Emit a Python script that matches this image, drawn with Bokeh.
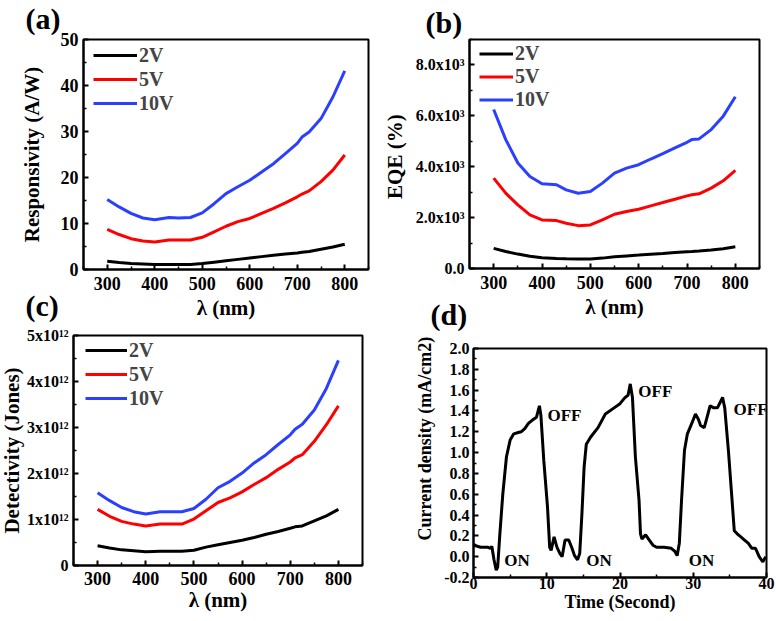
from bokeh.plotting import figure
from bokeh.layouts import column, row
from bokeh.models import FixedTicker, Legend, LegendItem, Range1d, NumeralTickFormatter, Title
from bokeh.embed import file_html
from bokeh.resources import INLINE

FONT = "Liberation Serif"
BLACK, RED, BLUE = "#000000", "#ff0000", "#2b3fff"

# ---------------- data ----------------
wl = [300, 325, 350, 375, 400, 430, 450, 475, 500, 525, 550, 575, 600, 625, 650, 675, 700, 710, 725, 750, 775, 800]

resp_2v = [1.8, 1.5, 1.3, 1.2, 1.1, 1.1, 1.1, 1.1, 1.3, 1.6, 1.9, 2.2, 2.5, 2.8, 3.1, 3.35, 3.6, 3.75, 3.9, 4.4, 4.9, 5.5]
resp_5v = [8.7, 7.6, 6.7, 6.2, 6.0, 6.4, 6.4, 6.4, 7.0, 8.2, 9.4, 10.4, 11.1, 12.2, 13.3, 14.5, 15.8, 16.4, 17.1, 19.1, 21.6, 24.9]
resp_10v = [15.2, 13.6, 12.2, 11.2, 10.8, 11.3, 11.2, 11.3, 12.3, 14.3, 16.5, 18.0, 19.4, 21.2, 23.0, 25.2, 27.4, 28.8, 29.9, 32.8, 37.5, 43.2]

eqe_2v = [790, 670, 566, 480, 421, 395, 382, 370, 375, 408, 460, 495, 526, 560, 592, 625, 658, 670, 690, 724, 780, 855]
eqe_5v = [3553, 2960, 2500, 2105, 1908, 1882, 1776, 1684, 1711, 1908, 2132, 2237, 2329, 2461, 2592, 2724, 2855, 2900, 2934, 3158, 3447, 3855]
eqe_10v = [6250, 5066, 4145, 3618, 3329, 3290, 3092, 2960, 3026, 3355, 3750, 3947, 4079, 4303, 4513, 4737, 4960, 5066, 5092, 5460, 5987, 6750]

det_2v = [0.43e12, 0.38e12, 0.34e12, 0.32e12, 0.30e12, 0.31e12, 0.31e12, 0.31e12, 0.33e12, 0.40e12, 0.45e12, 0.50e12, 0.55e12, 0.61e12, 0.68e12, 0.74e12, 0.81e12, 0.84e12, 0.86e12, 0.97e12, 1.08e12, 1.22e12]
det_5v = [1.22e12, 1.07e12, 0.96e12, 0.90e12, 0.86e12, 0.90e12, 0.90e12, 0.90e12, 1.01e12, 1.19e12, 1.37e12, 1.47e12, 1.60e12, 1.76e12, 1.91e12, 2.09e12, 2.25e12, 2.34e12, 2.41e12, 2.70e12, 3.06e12, 3.47e12]
det_10v = [1.58e12, 1.41e12, 1.26e12, 1.17e12, 1.12e12, 1.17e12, 1.17e12, 1.17e12, 1.24e12, 1.44e12, 1.69e12, 1.83e12, 2.01e12, 2.23e12, 2.41e12, 2.63e12, 2.84e12, 2.96e12, 3.07e12, 3.38e12, 3.85e12, 4.46e12]

time_s = [0.0, 0.5, 1.0, 1.5, 2.0, 2.3, 2.5, 2.8, 3.1, 3.3, 3.6, 4.0, 4.5, 5.0, 5.5, 6.0, 6.5, 7.0, 7.5, 8.0, 8.6, 9.0, 9.2,
          9.6, 10.1, 10.4, 10.6, 11.0, 11.4, 11.8, 12.1, 12.5, 13.0, 13.4, 13.8, 14.2, 14.5, 14.8, 15.1, 15.4, 16.0,
          17.0, 18.0, 19.0, 20.0, 20.7, 21.1, 21.4, 21.7, 22.1, 22.6, 22.8, 23.0, 23.5, 24.0, 24.5, 25.0, 26.0,
          27.0, 27.5, 27.8, 28.1, 28.4, 28.8, 29.2, 29.8, 30.3, 30.7, 31.0, 31.5, 32.0, 32.3, 32.8, 33.3, 33.8,
          34.0, 34.3, 34.8, 35.3, 35.6, 36.0, 36.5, 37.0, 37.5, 38.0, 38.5, 39.0, 39.5, 39.9]
current = [0.12, 0.10, 0.09, 0.09, 0.09, 0.08, 0.10, -0.03, -0.13, -0.10, 0.22, 0.60, 0.96, 1.12, 1.18, 1.19, 1.20, 1.23, 1.28, 1.31, 1.34, 1.45, 1.36,
           0.92, 0.48, 0.09, 0.06, 0.19, 0.09, 0.03, 0.00, 0.16, 0.16, 0.09, 0.01, -0.03, 0.03, 0.41, 0.86, 1.08, 1.15,
           1.24, 1.37, 1.42, 1.47, 1.53, 1.55, 1.66, 1.53, 0.96, 0.54, 0.22, 0.17, 0.21, 0.16, 0.11, 0.09, 0.09,
           0.08, 0.05, 0.01, 0.13, 0.54, 1.02, 1.18, 1.28, 1.37, 1.32, 1.26, 1.24, 1.37, 1.45, 1.43, 1.43, 1.50,
           1.53, 1.43, 1.02, 0.54, 0.25, 0.22, 0.19, 0.16, 0.13, 0.08, 0.08, 0.00, -0.05, 0.00]

on_x = [4.2, 15.4, 29.4]
on_y = [-0.04, -0.04, -0.04]
off_x = [10.1, 22.5, 35.5]
off_y = [1.36, 1.59, 1.41]

series_labels = ["2V", "5V", "10V"]
colors = [BLACK, RED, BLUE]
wl_major = [300, 400, 500, 600, 700, 800]
wl_minor = [250, 350, 450, 550, 650, 750, 850]


def style(p, xlabel, ylabel, tick_size="18px", label_size="21px"):
    p.xgrid.grid_line_color = None
    p.ygrid.grid_line_color = None
    p.outline_line_color = "black"
    p.outline_line_width = 2
    p.background_fill_color = "white"
    p.border_fill_color = None
    for ax in (p.xaxis, p.yaxis):
        ax.axis_line_width = 2
        ax.major_tick_in = 5
        ax.major_tick_out = 0
        ax.minor_tick_in = 3
        ax.minor_tick_out = 0
        ax.major_tick_line_width = 2
        ax.minor_tick_line_width = 1.5
        ax.major_label_text_font = FONT
        ax.major_label_text_font_style = "bold"
        ax.major_label_text_font_size = tick_size
        ax.major_label_text_color = "black"
        ax.axis_label_text_font = FONT
        ax.axis_label_text_font_style = "bold"
        ax.axis_label_text_font_size = label_size
        ax.axis_label_text_color = "black"
    p.xaxis.axis_label = xlabel
    if ylabel:
        p.yaxis.axis_label = ylabel


def add_legend(p, rends, loc, glyph_w, item_h, size="20px"):
    leg = Legend(items=[LegendItem(label=l, renderers=[r]) for l, r in zip(series_labels, rends)],
                 location=loc, border_line_color=None, background_fill_alpha=0,
                 label_text_font=FONT, label_text_font_style="bold", label_text_font_size=size,
                 glyph_width=glyph_w, glyph_height=item_h, label_height=item_h,
                 label_standoff=2, spacing=0, padding=0, margin=0)
    p.add_layout(leg)


def panel_title(p, text, offset, standoff):
    t = p.title
    t.text = text
    t.align = "left"
    t.vertical_align = "bottom"
    t.offset = offset
    t.standoff = standoff
    t.text_font = FONT
    t.text_font_style = "bold"
    t.text_font_size = "30px"
    t.text_color = "black"


# ---------------- (a) ----------------
pa = figure(width=376, height=337, output_backend="svg", toolbar_location=None, frame_align=False,
            x_range=Range1d(250, 850), y_range=Range1d(0, 50),
            min_border_left=83, min_border_right=8, min_border_top=54, min_border_bottom=53)
ra = [pa.line(wl, s, line_color=c, line_width=3) for s, c in zip([resp_2v, resp_5v, resp_10v], colors)]
style(pa, "λ (nm)", "Responsivity (A/W)")
pa.xaxis.ticker = FixedTicker(ticks=wl_major, minor_ticks=wl_minor)
pa.yaxis.ticker = FixedTicker(ticks=[0, 10, 20, 30, 40, 50], minor_ticks=[5, 15, 25, 35, 45])
pa.yaxis.major_label_standoff = 5
pa.yaxis.axis_label_standoff = 14
pa.xaxis.major_label_standoff = 7
pa.xaxis.axis_label_standoff = 3
add_legend(pa, ra, (10, 154), 44, 24)
panel_title(pa, "(a)", -58, 10)

# ---------------- (b) ----------------
pb = figure(width=399, height=337, output_backend="svg", toolbar_location=None, frame_align=False,
            x_range=Range1d(250, 850), y_range=Range1d(0, 9000),
            min_border_left=93, min_border_right=16, min_border_top=54, min_border_bottom=54)
rb = [pb.line(wl, s, line_color=c, line_width=3) for s, c in zip([eqe_2v, eqe_5v, eqe_10v], colors)]
style(pb, "λ (nm)", "EQE  (%)")
pb.xaxis.ticker = FixedTicker(ticks=wl_major, minor_ticks=wl_minor)
pb.yaxis.ticker = FixedTicker(ticks=[0, 2000, 4000, 6000, 8000], minor_ticks=[1000, 3000, 5000, 7000, 9000])
pb.yaxis.major_label_overrides = {0: "0.0", 2000: "2.0x10³", 4000: "4.0x10³", 6000: "6.0x10³", 8000: "8.0x10³"}
pb.yaxis.major_label_text_font_size = "16px"
pb.yaxis.major_label_standoff = 5
pb.yaxis.axis_label_standoff = 6
pb.xaxis.major_label_standoff = 7
pb.xaxis.axis_label_standoff = 3
add_legend(pb, rb, (10, 157), 34, 23)
panel_title(pb, "(b)", -44, 1)

# ---------------- (c) ----------------
pc = figure(width=380, height=348, output_backend="svg", toolbar_location=None, frame_align=False,
            x_range=Range1d(250, 850), y_range=Range1d(0, 5e12),
            min_border_left=77, min_border_right=14, min_border_top=61, min_border_bottom=55,
            styles={"margin-left": "-4px"})
rc = [pc.line(wl, s, line_color=c, line_width=3) for s, c in zip([det_2v, det_5v, det_10v], colors)]
style(pc, "λ (nm)", "Detectivity (Jones)")
pc.xaxis.ticker = FixedTicker(ticks=wl_major, minor_ticks=wl_minor)
pc.yaxis.ticker = FixedTicker(ticks=[0, 1e12, 2e12, 3e12, 4e12, 5e12],
                              minor_ticks=[0.5e12, 1.5e12, 2.5e12, 3.5e12, 4.5e12])
pc.yaxis.major_label_overrides = {0: "0", 1e12: "1x10¹²", 2e12: "2x10¹²", 3e12: "3x10¹²",
                                  4e12: "4x10¹²", 5e12: "5x10¹²"}
pc.yaxis.major_label_text_font_size = "16px"
pc.yaxis.major_label_standoff = 5
pc.yaxis.axis_label_standoff = 0
pc.xaxis.major_label_standoff = 6
pc.xaxis.axis_label_standoff = 0
add_legend(pc, rc, (12, 155), 42, 24)
panel_title(pc, "(c)", -48, 28)

# ---------------- (d) ----------------
pd_ = figure(width=399, height=348, output_backend="svg", toolbar_location=None, frame_align=False,
             x_range=Range1d(0, 40), y_range=Range1d(-0.2, 2.0),
             min_border_left=97, min_border_right=9, min_border_top=76, min_border_bottom=43)
pd_.line(time_s, current, line_color="black", line_width=3)
style(pd_, "Time (Second)", None, tick_size="16px", label_size="18px")
pd_.xaxis.ticker = FixedTicker(ticks=[0, 10, 20, 30, 40], minor_ticks=[5, 15, 25, 35])
pd_.yaxis.ticker = FixedTicker(ticks=[-0.2, 0.0, 0.2, 0.4, 0.6, 0.8, 1.0, 1.2, 1.4, 1.6, 1.8, 2.0],
                               minor_ticks=[-0.1, 0.1, 0.3, 0.5, 0.7, 0.9, 1.1, 1.3, 1.5, 1.7, 1.9])
pd_.yaxis.formatter = NumeralTickFormatter(format="0.0")
pd_.yaxis.major_label_standoff = 4
pd_.xaxis.major_label_standoff = 0
pd_.xaxis.axis_label_standoff = 0
pd_.add_layout(Title(text="Current density (mA/cm2)", align="left", vertical_align="bottom",
                     offset=37, standoff=14, text_font=FONT, text_font_style="bold",
                     text_font_size="18px", text_color="black"), "left")
pd_.text(x=on_x, y=on_y, text=["ON"] * 3, text_font={"value": FONT}, text_font_style="bold",
         text_font_size="17px", text_baseline="middle", text_color="black")
pd_.text(x=off_x, y=off_y, text=["OFF"] * 3, text_font={"value": FONT}, text_font_style="bold",
         text_font_size="17px", text_baseline="middle", text_color="black")
panel_title(pd_, "(d)", -43, 36)

top_row = row(pa, pb, styles={"margin-top": "-15px"})
bottom_row = row(pc, pd_, styles={"margin-top": "-50px"})
layout = column(top_row, bottom_row)
open("out.html", "w").write(file_html(layout, INLINE))
